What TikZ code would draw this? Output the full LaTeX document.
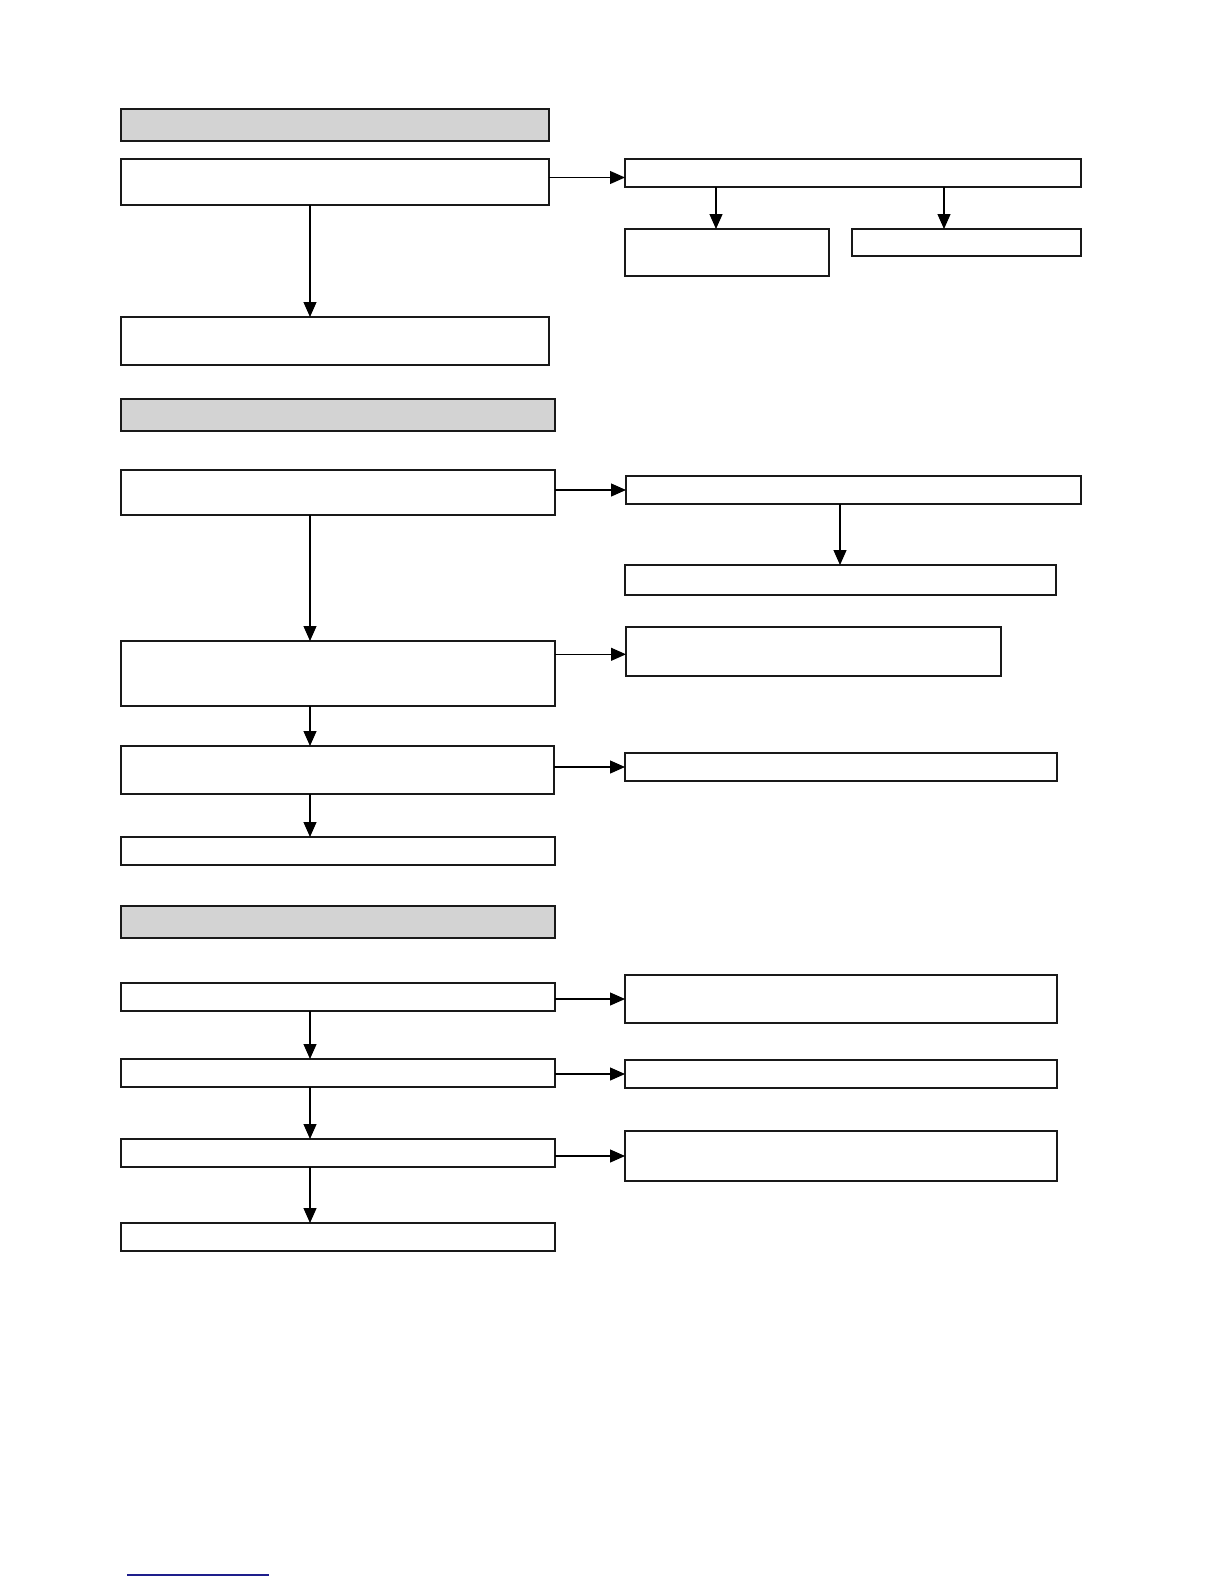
\documentclass[tikz,border=0pt]{standalone}
\usetikzlibrary{fit,arrows.meta}
\definecolor{hdrgray}{RGB}{211,211,211}
\definecolor{linkblue}{RGB}{30,30,140}
\tikzset{
  box/.style={draw=black!90, line width=0.7pt, inner sep=0pt, outer sep=0pt, fill=white},
  hdr/.style={box, fill=hdrgray},
  arr/.style={draw=black, line width=0.6pt, -{Triangle[length=7.5pt,width=6.5pt]}},
}
\newcommand\mkbox[6][box]{%
  \path (#3,#4) coordinate (#2-nw) (#5,#6) coordinate (#2-se);
  \node[#1, fit=(#2-nw)(#2-se)] (#2) {};}
\begin{document}
\begin{tikzpicture}[x=0.5pt,y=-0.5pt]
\useasboundingbox (0,0) rectangle (1224,1584);
% x positions of vertical connectors
\coordinate (mx) at (310,0);
\coordinate (ax) at (716,0);
\coordinate (bx) at (944,0);
\coordinate (cx) at (840,0);
% section 1
\mkbox[hdr]{h1}{121}{109}{549}{141}
\mkbox{a1}{121}{159}{549}{205}
\mkbox{r1}{625}{159}{1081}{187}
\mkbox{r1a}{625}{229}{829}{276}
\mkbox{r1b}{852}{229}{1081}{256}
\mkbox{a2}{121}{317}{549}{365}
% section 2
\mkbox[hdr]{h2}{121}{399}{555}{431}
\mkbox{b1}{121}{470}{555}{515}
\mkbox{s1}{626}{476}{1081}{504}
\mkbox{s2}{625}{565}{1056}{595}
\mkbox{b2}{121}{641}{555}{706}
\mkbox{s3}{626}{627}{1001}{676}
\mkbox{b3}{121}{746}{554}{794}
\mkbox{s4}{625}{753}{1057}{781}
\mkbox{b4}{121}{837}{555}{865}
% section 3
\mkbox[hdr]{h3}{121}{906}{555}{938}
\mkbox{c1}{121}{983}{555}{1011}
\mkbox{t1}{625}{975}{1057}{1023}
\mkbox{c2}{121}{1059}{555}{1087}
\mkbox{t2}{625}{1060}{1057}{1088}
\mkbox{c3}{121}{1139}{555}{1167}
\mkbox{t3}{625}{1131}{1057}{1181}
\mkbox{c4}{121}{1223}{555}{1251}
% connectors section 1
\draw[arr] ([yshift=-2.25pt]a1.east |- r1.west) -- ([yshift=-2.25pt]r1.west);
\draw[arr] (r1.south -| ax) -- (r1a.north -| ax);
\draw[arr] (r1.south -| bx) -- (r1b.north -| bx);
\draw[arr] (a1.south -| mx) -- (a2.north -| mx);
% connectors section 2
\draw[arr] (b1.east |- s1.west) -- (s1.west);
\draw[arr] (s1.south -| cx) -- (s2.north -| cx);
\draw[arr] (b1.south -| mx) -- (b2.north -| mx);
\draw[arr] ([yshift=-1.4pt]b2.east |- s3.west) -- ([yshift=-1.4pt]s3.west);
\draw[arr] (b2.south -| mx) -- (b3.north -| mx);
\draw[arr] (b3.east |- s4.west) -- (s4.west);
\draw[arr] (b3.south -| mx) -- (b4.north -| mx);
% connectors section 3
\draw[arr] (c1.east |- t1.west) -- (t1.west);
\draw[arr] (c1.south -| mx) -- (c2.north -| mx);
\draw[arr] (c2.east |- t2.west) -- (t2.west);
\draw[arr] (c2.south -| mx) -- (c3.north -| mx);
\draw[arr] (c3.east |- t3.west) -- (t3.west);
\draw[arr] (c3.south -| mx) -- (c4.north -| mx);
% bottom line
\coordinate (ul1) at (127,1575);
\coordinate (ul2) at (269,1575);
\draw[linkblue, line width=0.8pt] (ul1) -- (ul2);
\end{tikzpicture}
\end{document}
